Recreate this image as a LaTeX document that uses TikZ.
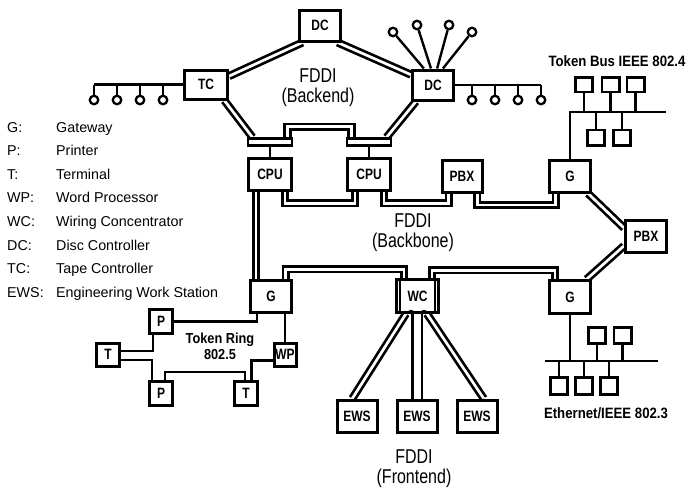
\documentclass[tikz,border=0pt]{standalone}
\usepackage{fontspec}
\setmainfont{Liberation Sans}
\newfontfamily\lblfont[FakeStretch=0.8]{Liberation Sans}
\newfontfamily\netfont[FakeStretch=0.88]{Liberation Sans}
\usetikzlibrary{calc,backgrounds}

\begin{document}
\begin{tikzpicture}[x=1pt,y=-1pt,
    box/.style={draw, line width=3pt, inner sep=0pt, font=\lblfont\bfseries\fontsize{15}{15}\selectfont},
    bx/.style 2 args={box, minimum width=#1pt, minimum height=#2pt},
    busbar/.style={draw, line width=2.4pt, minimum width=43.6pt, minimum height=7pt, inner sep=0pt},
    sbox/.style={draw, line width=2.6pt, minimum width=17.4pt, minimum height=#1pt, inner sep=0pt},
    ring/.style={line width=2.7pt, double, double distance=2.7pt},
    wire/.style={line width=2.4pt},
    tap/.style={circle, draw, line width=2.3pt, minimum size=8.5pt, inner sep=0pt},
    fddi/.style={align=center, font=\lblfont\fontsize{20}{20}\selectfont},
    lbl/.style={align=center, font=\netfont\bfseries\fontsize{15}{16}\selectfont},
    legkey/.style={anchor=base west, inner sep=0pt, font=\fontsize{14.3}{15}\selectfont}]
  \useasboundingbox (0,0) rectangle (688,491);

  % BACKEND
  \node[bx={41}{31}] (DCa) at (320,25.5) {DC};
  \node[bx={43}{29}] (TC) at (206,84.5) {TC};
  \node[bx={41}{30}] (DCb) at (433,85) {DC};
  \node[busbar] (barA) at (270,142) {};
  \node[busbar] (barB) at (369,142) {};
  \node[fddi] (fBack) at (318,87.5) {FDDI\\(Backend)};

  % BACKBONE
  \node[bx={43}{31.5}] (CPUa) at (270,174.5) {CPU};
  \node[bx={43}{31.5}] (CPUb) at (369,174.5) {CPU};
  \node[bx={40}{32}] (PBXa) at (462,176) {PBX};
  \node[bx={41}{32}] (Gtr) at (570,176) {G};
  \node[bx={41}{32}] (PBXb) at (646,236) {PBX};
  \node[bx={41}{32.5}] (Gbr) at (570,297) {G};
  \node[bx={41}{32}] (Gl) at (271,296) {G};
  \node[bx={42}{32.5}] (WC) at (417.5,296) {WC};
  \node[fddi] (fBone) at (413,233) {FDDI\\(Backbone)};

  % FRONTEND
  \node[bx={40}{32}] (EWSa) at (357,416) {EWS};
  \node[bx={40}{32}] (EWSb) at (417,416) {EWS};
  \node[bx={40}{32}] (EWSc) at (477,416) {EWS};
  \node[fddi] (fFront) at (414,469) {FDDI\\(Frontend)};

  % TOKEN RING
  \node[bx={23}{23.5}] (Pa) at (161,321.5) {P};
  \node[bx={23}{23}] (Ta) at (108,354.5) {T};
  \node[bx={23}{23.5}] (Pb) at (161,393.5) {P};
  \node[bx={23}{23.5}] (Tb) at (246,393.5) {T};
  \node[bx={22}{23}] (WP) at (285,354.5) {WP};
  \node[lbl, font=\netfont\bfseries\fontsize{14.5}{16}\selectfont] (tring) at (220,346) {Token Ring\\802.5};

  % ANNEAUX FDDI
  \begin{scope}[on background layer]
    \draw[ring] (TC.20) -- (DCa.224);
    \draw[ring] (DCa.316) -- (DCb.155);
    \draw[ring] (TC.-41) -- (barA.165);
    \draw[ring] (DCb.224) -- (barB.15);
    \draw[ring] (barA.15) -- ++(0,-10.5) -| (barB.165);
    \draw[ring] (CPUa.231) -- (CPUa.231 |- Gl.north);
    \draw[ring] (CPUa.-49) -- ++(0,11.5) -| (CPUb.231);
    \draw[ring] (CPUb.-49) -- ++(0,11.5) -| (PBXa.233);
    \draw[ring] (PBXa.-49) -- ++(0,11.5) -| (Gtr.231);
    \draw[ring] (Gtr.-44) -- (PBXb.160);
    \draw[ring] (PBXb.204) -- (Gbr.47);
    \draw[ring] (Gbr.130) -- ++(0,-9) -| (WC.51);
    \draw[ring] (WC.127) -- ++(0,-9) -| (Gl.50);
    \draw[ring] (WC.237) -- (EWSa.105);
    \draw[ring, double distance=7pt] (WC.south -| EWSb.north) -- (EWSb.north);
    \draw[ring] (WC.-62) -- (EWSc.69);
  \end{scope}
  \draw[line width=1.8pt] ([xshift=5pt]WC.north west) -- ([xshift=5pt]WC.south west);
  \draw[line width=1.8pt] ([xshift=-5pt]WC.north east) -- ([xshift=-5pt]WC.south east);
  \draw[line width=1.8pt] ([xshift=-9.5pt]WC.south) arc[start angle=180, end angle=0, radius=3pt];
  \draw[line width=1.8pt] ([xshift=3.5pt]WC.south) arc[start angle=180, end angle=0, radius=3pt];
  \draw[wire] (barA.south) -- (CPUa.north);
  \draw[wire] (barB.south) -- (CPUb.north);

  % LIGNES TOKEN RING
  \draw[wire] (Pa.east) -| (Gl.231);
  \draw[wire] (Gl.south -| WP.north) -- (WP.north);
  \draw[wire] (Ta.15) -| (Pa.238);
  \draw[wire] (Ta.-23) -| (Pb.125);
  \draw[wire] (Pb.73) -- ++(0,-8) -| (Tb.95);
  \draw[wire] (Tb.67) |- (WP.206);

  % BUS DES CONTROLEURS
  \node[tap] (f1) at (393,32) {};
  \node[tap] (f2) at (417,25) {};
  \node[tap] (f3) at (449,25) {};
  \node[tap] (f4) at (472,32) {};
  \draw[wire] (DCb.119) -- (f1);
  \draw[wire] (DCb.97) -- (f2);
  \draw[wire] (DCb.76) -- (f3);
  \draw[wire] (DCb.59) -- (f4);
  \foreach \n/\x in {1/472,2/495,3/518,4/541}{
    \node[tap] (r\n) at (\x,100) {};
    \draw[wire] (r\n) -- (r\n |- DCb.east);
  }
  \draw[wire] (DCb.east) -- (r4 |- DCb.east);
  \foreach \n/\x in {1/94,2/117,3/140,4/163}{
    \node[tap] (l\n) at (\x,100) {};
    \draw[wire] (l\n) -- (l\n |- TC.west);
  }
  \draw[wire] (TC.west) -- (l1 |- TC.west);

  % TOKEN BUS
  \coordinate (tbL) at (570,112);
  \coordinate (tbR) at (666,112);
  \draw[wire] (Gtr.north) -- (tbL) -- (tbR);
  \node[sbox=14.4] (tb1) at (584,84.7) {};
  \node[sbox=14.4] (tb2) at (610.5,84.7) {};
  \node[sbox=14.4] (tb3) at (635.5,84.7) {};
  \node[sbox=15.4] (tb4) at (596,137.5) {};
  \node[sbox=15.4] (tb5) at (622,137.5) {};
  \foreach \n in {1,2,3} \draw[wire] (tb\n.south) -- (tb\n.south |- tbL);
  \foreach \n in {4,5} \draw[wire] (tb\n.north) -- (tb\n.north |- tbL);
  \node[lbl] (tbus) at (617,61) {Token Bus IEEE 802.4};

  % ETHERNET
  \coordinate (etL) at (545,361);
  \coordinate (etR) at (658,361);
  \draw[wire] (Gbr.south) -- (Gbr.south |- etL);
  \draw[wire] (etL) -- (etR);
  \node[sbox=16.4] (et1) at (597,335.5) {};
  \node[sbox=16.4] (et2) at (622.5,335.5) {};
  \node[sbox=17.2] (et3) at (559,386) {};
  \node[sbox=17.2] (et4) at (584,386) {};
  \node[sbox=17.2] (et5) at (609,386) {};
  \foreach \n in {1,2} \draw[wire] (et\n.south) -- (et\n.south |- etL);
  \foreach \n in {3,4,5} \draw[wire] (et\n.north) -- (et\n.north |- etL);
  \node[lbl] (ether) at (606,413) {Ethernet/IEEE 802.3};

  % LEGENDE
  \foreach \k/\d [count=\i from 0] in {G:/Gateway, P:/Printer, T:/Terminal,
      WP:/Word Processor, WC:/Wiring Concentrator, DC:/Disc Controller,
      TC:/Tape Controller, EWS:/Engineering Work Station}{
    \node[legkey] (k\i) at (7,{132+23.6*\i}) {\k};
    \node[legkey] (d\i) at (56,{132+23.6*\i}) {\d};
  }
\end{tikzpicture}
\end{document}
